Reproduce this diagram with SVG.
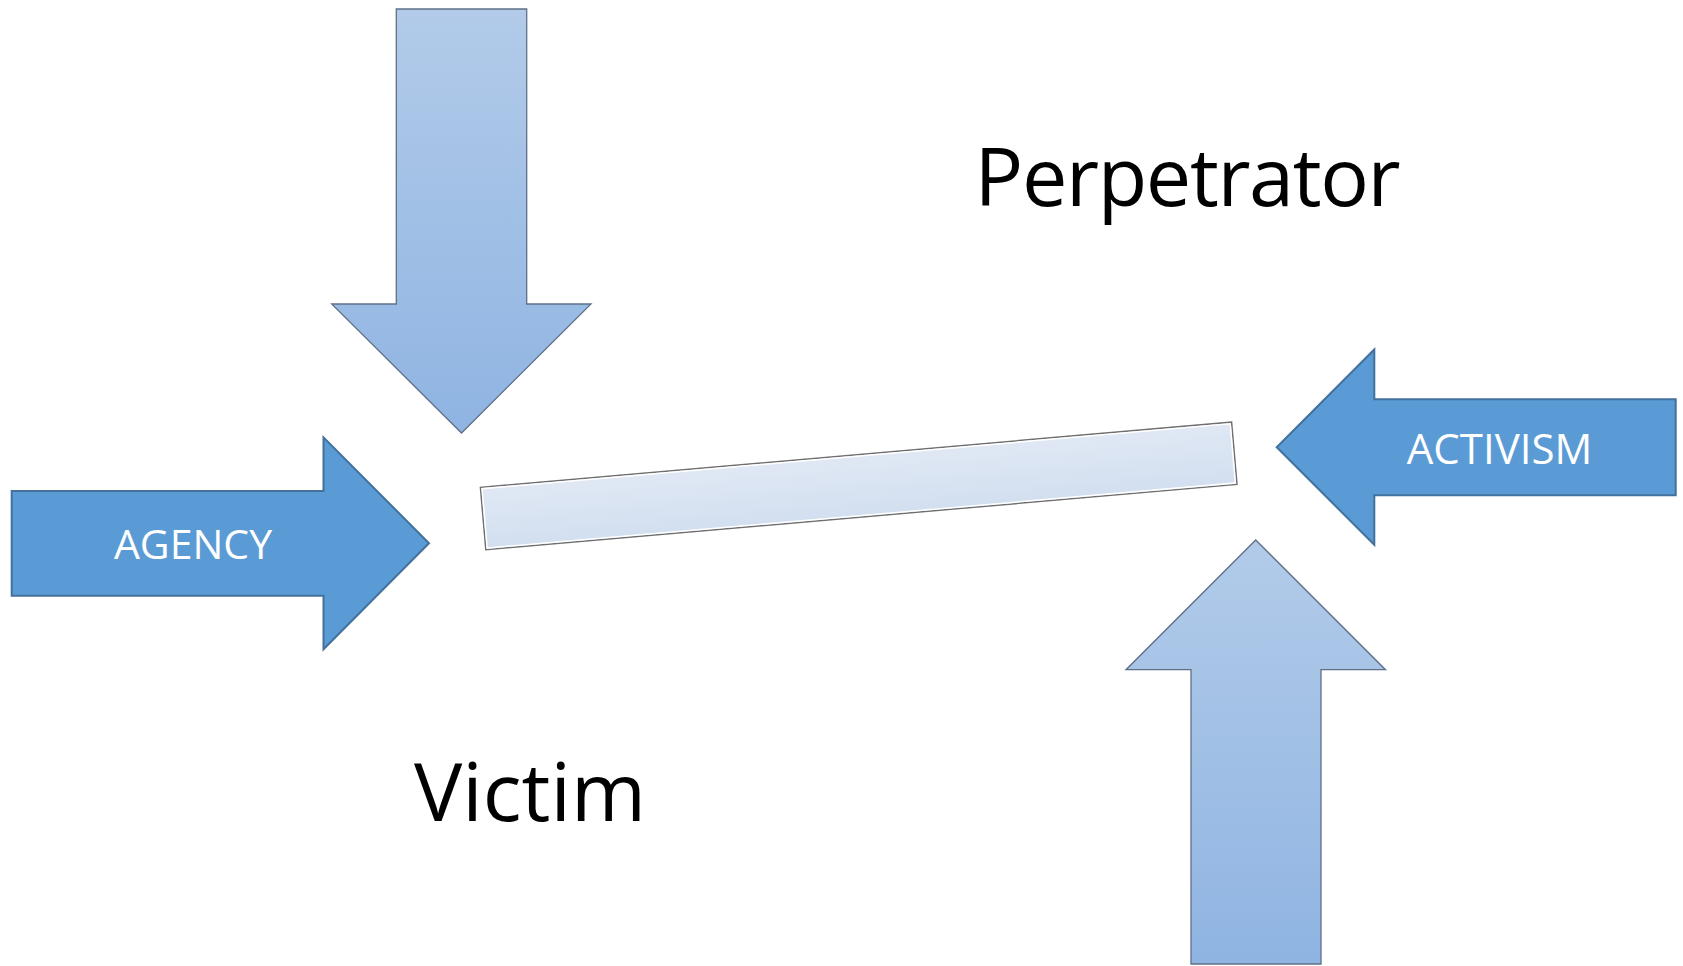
<svg xmlns="http://www.w3.org/2000/svg" width="1683" height="966" viewBox="0 0 1683 966">
<defs>
<linearGradient id="gBlue" x1="0" y1="0" x2="0" y2="1">
<stop offset="0" stop-color="#b2cbe9"/>
<stop offset="1" stop-color="#8fb4e2"/>
</linearGradient>
<linearGradient id="gBar" x1="0" y1="0" x2="0" y2="1">
<stop offset="0" stop-color="#e0e8f4"/>
<stop offset="1" stop-color="#d2dff0"/>
</linearGradient>
<style>
.light{fill:url(#gBlue);stroke:#5e7088;stroke-width:1.3;stroke-linejoin:miter}
.solid{fill:#5b9bd5;stroke:#41719c;stroke-width:2}
.lbl{font-family:"Open Sans","Liberation Sans",sans-serif;fill:#ffffff;font-size:41px;text-anchor:middle}
.big{font-family:"Open Sans","Liberation Sans",sans-serif;fill:#000000;font-size:81px;text-anchor:middle}
</style>
</defs>
<rect width="1683" height="966" fill="#ffffff"/>
<g id="down-arrow">
<polygon class="light" points="396.3,9 526.7,9 526.7,304 591,304 461.5,433 331.7,304 396.3,304"/>
</g>
<g id="up-arrow">
<polygon class="light" points="1191,964 1321,964 1321,669.7 1385.5,669.7 1255.7,540 1126,669.7 1191,669.7"/>
</g>
<g id="agency">
<polygon class="solid" points="11.7,491 323.5,491 323.5,437.3 429,543.3 323.5,649.3 323.5,595.7 11.7,595.7"/>
<text class="lbl" x="193" y="559">AGENCY</text>
</g>
<g id="activism">
<polygon class="solid" points="1675.7,399.3 1374.3,399.3 1374.3,349.5 1276.7,447.3 1374.3,544.8 1374.3,495.3 1675.7,495.3"/>
<text class="lbl" x="1499.5" y="464" style="font-size:42px">ACTIVISM</text>
</g>
<g id="bar">
<g transform="translate(858.7,485.9) rotate(-4.97)">
<rect x="-377" y="-31.25" width="754" height="62.5" fill="url(#gBar)" stroke="#6f6f6f" stroke-width="1.5"/>
<rect x="-375.5" y="-29.75" width="751" height="59.5" fill="none" stroke="#ffffff" stroke-width="1.5"/>
</g>
</g>
<g id="perpetrator">
<text class="big" x="1187.6" y="206" textLength="426" lengthAdjust="spacing">Perpetrator</text>
</g>
<g id="victim">
<text class="big" x="530" y="821">Victim</text>
</g>
<g id="connectors"></g>
</svg>
